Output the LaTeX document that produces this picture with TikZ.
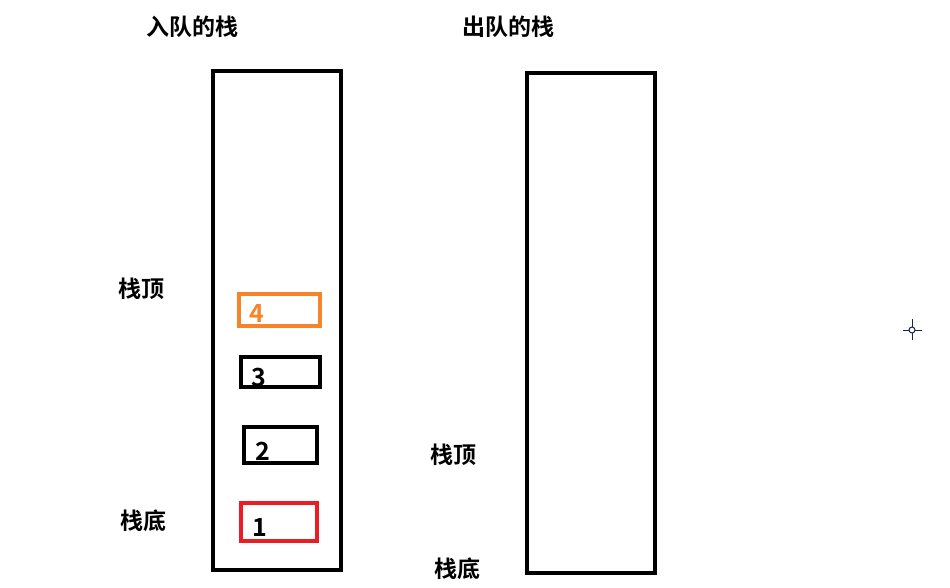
\documentclass[tikz,border=0pt]{standalone}
\usepackage{fontspec}
\setmainfont{Noto Sans CJK SC Bold}
\usepackage{xcolor}
\definecolor{toporange}{HTML}{F7842A}
\definecolor{botred}{HTML}{EC1C24}
\definecolor{cursorblue}{HTML}{1C2340}
\usetikzlibrary{positioning}

\begin{document}
\begin{tikzpicture}[x=1pt,y=-1pt]
		\tikzstyle{every node}=[font=\fontsize{23}{27}\selectfont, inner sep=0pt]
		\tikzstyle{stackwall}=[line width=4pt, black]
		\tikzstyle{elembox}=[line width=4pt]
		\tikzstyle{digit}=[font=\fontsize{25}{29}\selectfont]
		\useasboundingbox (0,0) rectangle (950,588);
		% the two stacks
		\draw [stackwall] (213,71) rectangle (341,570);
		\draw [stackwall] (527,73) rectangle (655,573);
		% elements in the enqueue stack
		\draw [elembox, toporange] (239,294) rectangle (320,326);
		\draw [elembox] (241,357) rectangle (320,387);
		\draw [elembox] (244,427) rectangle (317,463);
		\draw [elembox, botred] (241,503) rectangle (317,541);
		\node [digit, text=toporange] (e4) at (257,313) {4};
		\node [digit] (e3) at (259,377) {3};
		\node [digit] (e2) at (263,451) {2};
		\node [digit] (e1) at (260,527) {1};
		% titles and labels
		\node (inTitle) at (192,27) {入队的栈};
		\node (outTitle) at (508,27) {出队的栈};
		\node (inTop) at (141,289) {栈顶};
		\node (inBottom) at (143,521) {栈底};
		\node (outTop) at (453,455) {栈顶};
		\node (outBottom) at (457,569) {栈底};
		% cursor mark
		\draw [cursorblue, line width=1pt] (912,330) circle (3);
		\draw [cursorblue, line width=1pt] (903,330) -- (909,330) (915,330) -- (922,330)
			(912,319) -- (912,327) (912,333) -- (912,340);
	\end{tikzpicture}
\end{document}
